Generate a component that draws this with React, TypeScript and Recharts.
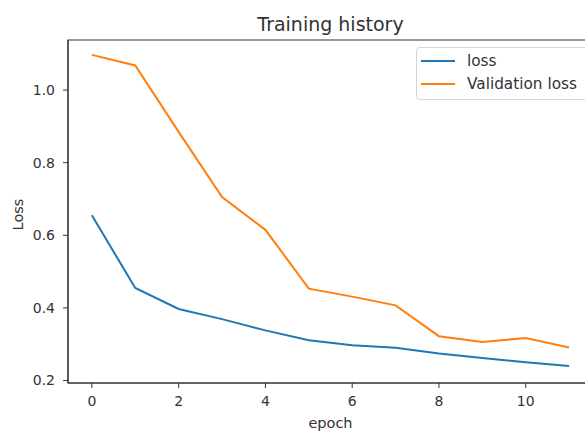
import React from 'react';
import { LineChart, Line, XAxis, YAxis, ReferenceArea } from 'recharts';

const epochs = [0, 1, 2, 3, 4, 5, 6, 7, 8, 9, 10, 11];
const lossValues = [0.655, 0.455, 0.397, 0.369, 0.338, 0.311, 0.297, 0.29, 0.274, 0.262, 0.25, 0.24];
const valLossValues = [1.097, 1.068, 0.885, 0.705, 0.615, 0.453, 0.431, 0.407, 0.322, 0.306, 0.317, 0.291];
const xTicks = [0, 2, 4, 6, 8, 10];
const yTicks = [0.2, 0.4, 0.6, 0.8, 1.0];

const data = epochs.map((e, i) => ({ epoch: e, loss: lossValues[i], val: valLossValues[i] }));

const FONT = '"DejaVu Sans", sans-serif';
const INK = '#333';
const BLUE = '#1f77b4';
const ORANGE = '#ff7f0e';
const X_DOMAIN: [number, number] = [-0.55, 11.55];
const Y_DOMAIN: [number, number] = [0.193, 1.138];

function LegendBox() {
  const items = [
    { name: 'loss', color: BLUE },
    { name: 'Validation loss', color: ORANGE },
  ];
  return (
    <div
      style={{
        position: 'absolute',
        left: 416,
        top: 47,
        border: '1px solid #d6d6d6',
        borderRadius: 4,
        background: 'rgba(255,255,255,0.8)',
        padding: '1px 8px 3px 4px',
        fontFamily: FONT,
        fontSize: 15.3,
        color: INK,
        width: 160,
      }}
    >
      {items.map((it) => (
        <div key={it.name} style={{ display: 'flex', alignItems: 'center', height: 23.3, whiteSpace: 'nowrap' }}>
          <span style={{ display: 'inline-block', width: 34, height: 2, background: it.color, marginRight: 12 }} />
          <span>{it.name}</span>
        </div>
      ))}
    </div>
  );
}

export default function App() {
  return (
    <div style={{ position: 'absolute', left: 0, top: 0, width: 585, height: 433, overflow: 'hidden', background: '#fff' }}>
      <LineChart width={600} height={433} data={data} margin={{ top: 40, right: 7, bottom: 0, left: 8 }}>
        <XAxis
          dataKey="epoch"
          type="number"
          domain={X_DOMAIN}
          ticks={xTicks}
          height={50}
          tickSize={5}
          tickMargin={8}
          stroke={INK}
          tick={{ fill: INK, fontSize: 14, fontFamily: FONT }}
          label={{
            content: (p: any) => {
              const cx = p.viewBox.x + p.viewBox.width / 2;
              return (
                <g>
                  <text x={cx} y={428} textAnchor="middle" fill={INK} fontSize={14.5} fontFamily={FONT}>
                    epoch
                  </text>
                  <text x={cx} y={31} textAnchor="middle" fill={INK} fontSize={19} fontFamily={FONT}>
                    Training history
                  </text>
                </g>
              );
            },
          }}
        />
        <YAxis
          type="number"
          domain={Y_DOMAIN}
          ticks={yTicks}
          width={60}
          tickSize={5}
          tickMargin={8}
          stroke={INK}
          tickFormatter={(v: number) => v.toFixed(1)}
          tick={{ fill: INK, fontSize: 14, fontFamily: FONT }}
          label={{
            content: (p: any) => {
              const cy = p.viewBox.y + p.viewBox.height / 2 + 3;
              return (
                <text x={23} y={cy} transform={`rotate(-90, 23, ${cy})`} textAnchor="middle" fill={INK} fontSize={14.5} fontFamily={FONT}>
                  Loss
                </text>
              );
            },
          }}
        />
        <ReferenceArea
          x1={X_DOMAIN[0]}
          x2={X_DOMAIN[1]}
          y1={Y_DOMAIN[0]}
          y2={Y_DOMAIN[1]}
          ifOverflow="visible"
          fill="none"
          fillOpacity={0}
          stroke={INK}
          strokeWidth={1.2}
        />
        <Line dataKey="loss" stroke={BLUE} strokeWidth={2} dot={false} isAnimationActive={false} />
        <Line dataKey="val" stroke={ORANGE} strokeWidth={2} dot={false} isAnimationActive={false} />
      </LineChart>
      <LegendBox />
    </div>
  );
}
